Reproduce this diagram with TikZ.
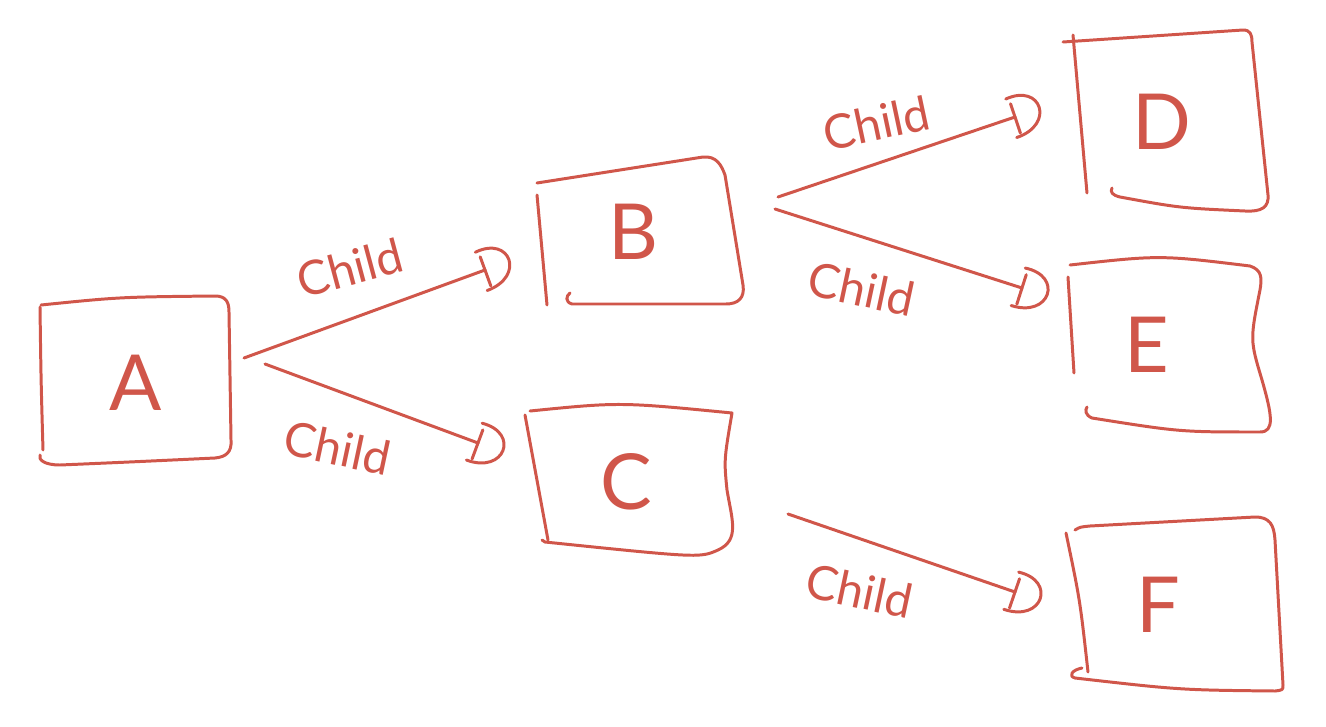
\documentclass[tikz,border=0pt]{standalone}
\usepackage{fontspec}
\setmainfont{Lato}
\definecolor{ink}{RGB}{208,86,74}
\tikzset{
  pen/.style={draw=ink, line width=1.7pt, line cap=round, line join=round},
  letter/.style={text=ink, font=\fontsize{44}{48}\selectfont, inner sep=0pt},
  lbl/.style={text=ink, font=\fontsize{27}{30}\selectfont, inner sep=0pt},
  dhead/.pic={
    \draw[pen] (0,-14) -- (0,17);
    \draw[pen] (-3,-20) .. controls (36,-24) and (36,20) .. (-5,20);
  }
}
\begin{document}
\begin{tikzpicture}[x=0.02cm,y=-0.02cm]
\useasboundingbox (0,0) rectangle (1326,727);

% boxes
\draw[pen] (40,307) .. controls (41,380) .. (43,450);
\draw[pen] (41,305) .. controls (120,297) .. (215,296) .. controls (226,296) and (229,302) .. (229,312) -- (231,440) .. controls (232,452) and (226,457) .. (215,458) .. controls (130,462) .. (60,465) .. controls (45,465) and (38,460) .. (40,455);

\draw[pen] (537,195) -- (547,305);
\draw[pen] (537,183) -- (703,157) .. controls (716,156) and (721,164) .. (725,175) -- (743,285) .. controls (745,298) and (738,304) .. (726,304) -- (572,304) .. controls (565,302) and (566,296) .. (570,293);

\draw[pen] (525,415) -- (548,540);
\draw[pen] (530,411) .. controls (620,402) .. (732,413) .. controls (724,460) .. (727,490) .. controls (732,520) and (740,540) .. (718,550) .. controls (700,558) .. (545,542) -- (542,540);

\draw[pen] (1073,35) -- (1087,193);
\draw[pen] (1063,42) -- (1243,30) .. controls (1250,30) and (1252,34) .. (1252,42) -- (1268,195) .. controls (1269,207) and (1262,212) .. (1245,211) .. controls (1180,208) .. (1120,197) .. controls (1112,195) and (1110,192) .. (1112,188);

\draw[pen] (1068,277) -- (1074,373);
\draw[pen] (1070,265) .. controls (1160,255) .. (1250,266) .. controls (1262,270) and (1262,278) .. (1260,290) .. controls (1250,340) .. (1262,380) .. controls (1272,415) and (1275,432) .. (1260,432) .. controls (1180,432) .. (1092,418) .. controls (1085,415) and (1085,410) .. (1087,407);

\draw[pen] (1066,533) .. controls (1080,600) .. (1088,672);
\draw[pen] (1075,530) .. controls (1080,527) .. (1090,526) -- (1255,517) .. controls (1270,517) and (1274,525) .. (1275,540) -- (1283,685) .. controls (1283,690) .. (1275,691) .. controls (1180,690) .. (1075,678) .. controls (1068,676) and (1072,670) .. (1082,668);

% letters
\node[letter] (A) at (136,383) {A};
\node[letter] (B) at (633,232) {B};
\node[letter] (C) at (626,482) {C};
\node[letter] (D) at (1162,122) {D};
\node[letter] (E) at (1147,345) {E};
\node[letter] (F) at (1158,605) {F};

% connector ends
\coordinate (ab0) at (244,358); \coordinate (ab1) at (485,270);
\coordinate (ac0) at (265,364); \coordinate (ac1) at (478,443);
\coordinate (bd0) at (778,197); \coordinate (bd1) at (1015,117);
\coordinate (be0) at (775,209); \coordinate (be1) at (1022,288);
\coordinate (cf0) at (788,514); \coordinate (cf1) at (1015,592);

\draw[pen] (ab0) -- (ab1) pic[pos=1,sloped]{dhead};
\draw[pen] (ac0) -- (ac1) pic[pos=1,sloped]{dhead};
\draw[pen] (bd0) -- (bd1) pic[pos=1,sloped]{dhead};
\draw[pen] (be0) -- (be1) pic[pos=1,sloped]{dhead};
\draw[pen] (cf0) -- (cf1) pic[pos=1,sloped]{dhead};

% labels
\node[lbl, rotate=15] (lab) at (350,268) {Child};
\node[lbl, rotate=-12] (lac) at (338,448) {Child};
\node[lbl, rotate=12] (lbd) at (876,123) {Child};
\node[lbl, rotate=-12] (lbe) at (862,289) {Child};
\node[lbl, rotate=-12] (lcf) at (860,591) {Child};
\end{tikzpicture}
\end{document}
